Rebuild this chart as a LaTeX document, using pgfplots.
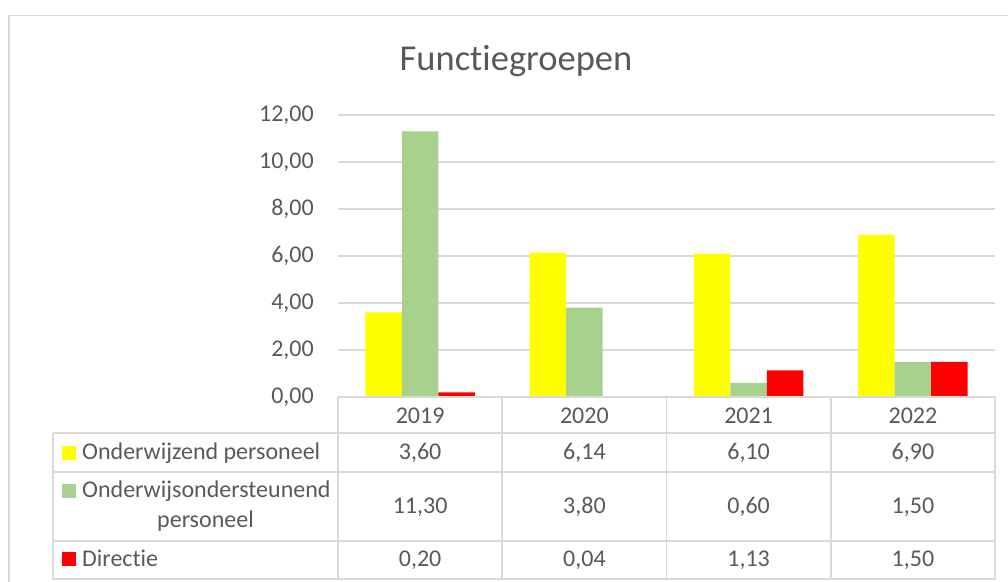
\documentclass[border=0pt]{standalone}
\usepackage{pgfplots}
\pgfplotsset{compat=1.18}
\usepackage{fontspec}
\setmainfont[Ligatures=NoCommon]{Carlito}
\definecolor{txt}{HTML}{595959}
\definecolor{gridc}{HTML}{D9D9D9}
\definecolor{cYel}{HTML}{FFFF00}
\definecolor{cGrn}{HTML}{A9D18E}
\definecolor{cRed}{HTML}{FF0000}
\newcommand\lbl{\fontsize{24}{29}\selectfont}
\begin{document}
\begin{tikzpicture}
\begin{scope}[x=1pt,y=1pt]
\path[use as bounding box] (0,0) rectangle (1008,581);
% outer chart border
\draw[gridc, line width=1.6pt] (9,-10) -- (9,565.5) -- (1020,565.5);
% title
\node[anchor=base, text=txt, font=\fontsize{36.5}{42}\selectfont, inner sep=0pt] at (516,581-71) {Functiegroepen};
\end{scope}
\begin{axis}[
  at={(338pt,184pt)}, anchor=south west,
  scale only axis, width=657pt, height=282pt,
  xmin=-0.5, xmax=3.5, ymin=0, ymax=12,
  ytick={0,2,4,6,8,10,12}, xtick=\empty,
  ymajorgrids, grid style={gridc, line width=1.3pt},
  axis line style={draw=none}, tick style={draw=none},
  ybar, bar width=0.2222,
  yticklabel style={text=txt, font=\lbl, anchor=east, inner sep=0pt, xshift=-24pt},
  /pgf/number format/.cd, fixed, fixed zerofill, precision=2, use comma, assume math mode=true,
]
\addplot[fill=cYel, draw=none, bar shift=-0.2222] coordinates {(0,3.60) (1,6.14) (2,6.10) (3,6.90)};
\addplot[fill=cGrn, draw=none, bar shift=0] coordinates {(0,11.30) (1,3.80) (2,0.60) (3,1.50)};
\addplot[fill=cRed, draw=none, bar shift=0.2222] coordinates {(0,0.20) (1,0.04) (2,1.13) (3,1.50)};
\end{axis}
\begin{scope}[x=1pt,y=1pt]
% data table grid
\begin{scope}[gridc, line width=1.6pt]
\draw (338,581-397) -- (995,581-397);
\foreach \yy in {433,472,541,579} \draw (53,581-\yy) -- (995,581-\yy);
\draw (53,581-433) -- (53,581-579);
\foreach \xx in {338,502.25,666.5,830.75,995} \draw (\xx,581-397) -- (\xx,581-579);
\end{scope}
\begin{scope}[every node/.style={text=txt, font=\lbl, inner sep=0pt, anchor=base}]
% header
\node at (420.1,581-423) {2019};
\node at (584.4,581-423) {2020};
\node at (748.6,581-423) {2021};
\node at (912.9,581-423) {2022};
% row 1
\fill[cYel] (62,581-459.5) rectangle (76,581-445.5);
\node[anchor=base west] at (82,581-459.5) {Onderwijzend personeel};
\node at (420.1,581-459.5) {3,60};
\node at (584.4,581-459.5) {6,14};
\node at (748.6,581-459.5) {6,10};
\node at (912.9,581-459.5) {6,90};
% row 2
\fill[cGrn] (62,581-497.5) rectangle (76,581-483.5);
\node[anchor=base west] at (82,581-497.5) {Onderwijsondersteunend};
\node at (205.5,581-527) {personeel};
\node at (420.1,581-513) {11,30};
\node at (584.4,581-513) {3,80};
\node at (748.6,581-513) {0,60};
\node at (912.9,581-513) {1,50};
% row 3
\fill[cRed] (62,581-566) rectangle (76,581-552);
\node[anchor=base west] at (82,581-566) {Directie};
\node at (420.1,581-566) {0,20};
\node at (584.4,581-566) {0,04};
\node at (748.6,581-566) {1,13};
\node at (912.9,581-566) {1,50};
\end{scope}
\end{scope}
\end{tikzpicture}
\end{document}
